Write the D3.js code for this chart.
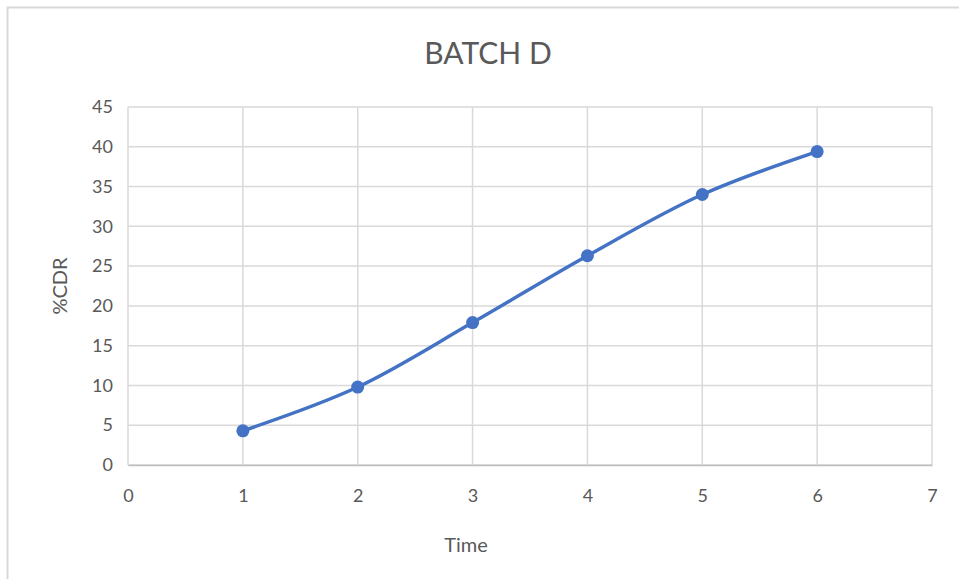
<!DOCTYPE html>
<html>
<head>
<meta charset="utf-8">
<script src="https://cdn.jsdelivr.net/npm/d3@7"></script>
<style>
  html, body { margin: 0; padding: 0; background: #fff; }
  svg { display: block; }
  text { font-family: Lato, "Open Sans", sans-serif; fill: #595959; }
</style>
</head>
<body>
<svg id="chart" width="959" height="579"></svg>
<script>
// Batch D: %CDR measured at each time point
const times = [1, 2, 3, 4, 5, 6];
const cdrValues = [4.3, 9.8, 17.9, 26.3, 34.0, 39.4];
const xTicks = [0, 1, 2, 3, 4, 5, 6, 7];
const yTicks = [0, 5, 10, 15, 20, 25, 30, 35, 40, 45];
const titleText = "BATCH D";
const xTitle = "Time";
const yTitle = "%CDR";

const W = 959, H = 579;
const margin = { left: 128, right: 27, top: 107, bottom: 114 };
const svg = d3.select("#chart");

// chart frame
svg.append("path")
  .attr("d", `M7.5,${H} L7.5,7.5 L${W},7.5`)
  .attr("fill", "none")
  .attr("stroke", "#d9d9d9")
  .attr("stroke-width", 2);

const x = d3.scaleLinear().domain([0, 7]).range([margin.left, W - margin.right]);
const y = d3.scaleLinear().domain([0, 45]).range([H - margin.bottom, margin.top]);

// gridlines
const grid = svg.append("g");
grid.selectAll("line.h").data(yTicks).join("line")
  .attr("x1", x(0)).attr("x2", x(7))
  .attr("y1", d => y(d)).attr("y2", d => y(d))
  .attr("stroke", "#d9d9d9").attr("stroke-width", 1.5);
grid.selectAll("line.v").data(xTicks).join("line")
  .attr("y1", y(0)).attr("y2", y(45))
  .attr("x1", d => x(d)).attr("x2", d => x(d))
  .attr("stroke", "#d9d9d9").attr("stroke-width", 1.5);

// axes
const xAxis = svg.append("g")
  .attr("transform", `translate(0,${y(0)})`)
  .call(d3.axisBottom(x).tickValues(xTicks).tickSize(0).tickPadding(24).tickFormat(d3.format("d")));
xAxis.select(".domain").attr("stroke", "#bfbfbf").attr("stroke-width", 1.5);
xAxis.selectAll("text").style("font-size", "18px").attr("fill", "#595959");

const yAxis = svg.append("g")
  .attr("transform", `translate(${x(0)},0)`)
  .call(d3.axisLeft(y).tickValues(yTicks).tickSize(0).tickPadding(15).tickFormat(d3.format("d")));
yAxis.select(".domain").remove();
yAxis.selectAll("text").style("font-size", "18px").attr("fill", "#595959");

// series line and markers
const pts = times.map((t, i) => [t, cdrValues[i]]);
const line = d3.line()
  .x(d => x(d[0])).y(d => y(d[1]))
  .curve(d3.curveCatmullRom.alpha(0.5));
svg.append("path")
  .datum(pts)
  .attr("d", line)
  .attr("fill", "none")
  .attr("stroke", "#4472c4")
  .attr("stroke-width", 3.5)
  .attr("stroke-linecap", "round");
svg.selectAll("circle.pt").data(pts).join("circle")
  .attr("cx", d => x(d[0])).attr("cy", d => y(d[1]))
  .attr("r", 6.5)
  .attr("fill", "#4472c4");

// titles
svg.append("text")
  .attr("x", 488).attr("y", 64)
  .attr("text-anchor", "middle")
  .style("font-size", "30px")
  .text(titleText);
svg.append("text")
  .attr("x", 466).attr("y", 552)
  .attr("text-anchor", "middle")
  .style("font-size", "20px")
  .text(xTitle);
svg.append("text")
  .attr("transform", `translate(67,${(y(0) + y(45)) / 2}) rotate(-90)`)
  .attr("text-anchor", "middle")
  .style("font-size", "20px")
  .text(yTitle);
</script>
</body>
</html>
